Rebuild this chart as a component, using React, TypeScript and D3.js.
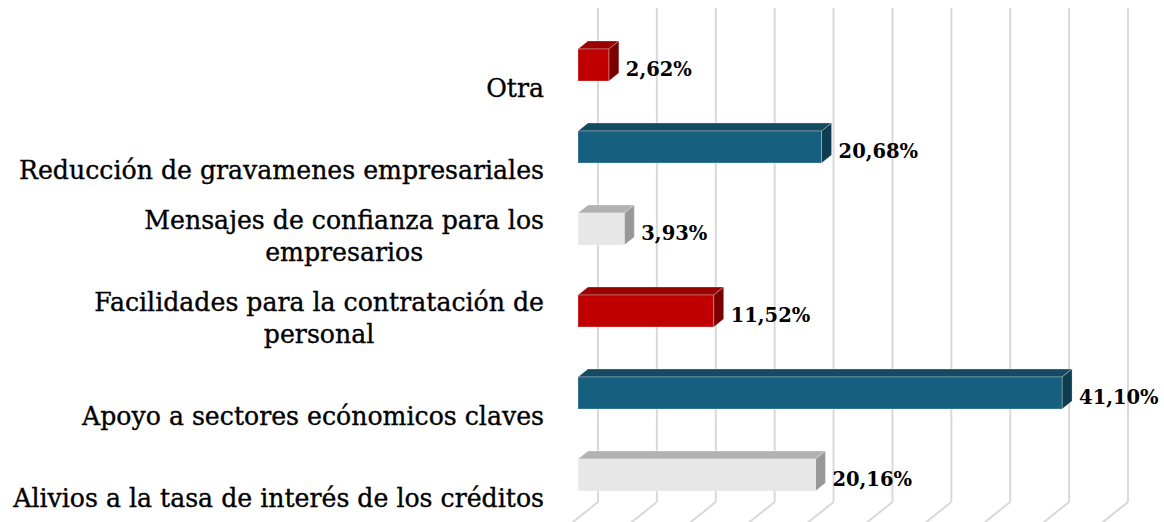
import React from "react";
import * as d3 from "d3";

const categories = [
  "Otra",
  "Reducción de gravamenes empresariales",
  "Mensajes de confianza para los empresarios",
  "Facilidades para la contratación de personal",
  "Apoyo a sectores ecónomicos claves",
  "Alivios a la tasa de interés de los créditos",
];
const categoryLines = [
  ["Otra"],
  ["Reducción de gravamenes empresariales"],
  ["Mensajes de confianza para los", "empresarios"],
  ["Facilidades para la contratación de", "personal"],
  ["Apoyo a sectores ecónomicos claves"],
  ["Alivios a la tasa de interés de los créditos"],
];
const values = [2.62, 20.68, 3.93, 11.52, 41.1, 20.16];
const valueLabels = ["2,62%", "20,68%", "3,93%", "11,52%", "41,10%", "20,16%"];
const colorKeys = ["red", "blue", "gray", "red", "blue", "gray"];
const gridTicks = [0, 5, 10, 15, 20, 25, 30, 35, 40, 45];

const palette: Record<string, { front: string; top: string; side: string }> = {
  red: { front: "#c00000", top: "#990000", side: "#7a0000" },
  blue: { front: "#175f7e", top: "#134b63", side: "#0e3c50" },
  gray: { front: "#e7e7e7", top: "#b2b2b2", side: "#989898" },
};

const W = 1164;
const H = 522;
const FRONT_X0 = 578;
const BACK_X0 = 598;
const DX = 10;
const DY = 8;
const BAR_H = 32;
const WALL_TOP = 8;
const WALL_BOTTOM = 502;
const LABEL_FONT = 25.2;
const LABEL_FAMILY = "'DejaVu Serif', serif";
const LABEL_RIGHT = 544;

let ctx: CanvasRenderingContext2D | null = null;
function measure(s: string): number {
  if (!ctx) {
    const c = document.createElement("canvas");
    ctx = c.getContext("2d");
  }
  if (!ctx) return s.length * LABEL_FONT * 0.56;
  ctx.font = `${LABEL_FONT}px 'DejaVu Serif'`;
  return ctx.measureText(s).width;
}

export default function App() {
  const x = d3.scaleLinear().domain([0, 45]).range([0, 530]);
  const y = d3.scalePoint<string>().domain(categories).range([65, 475]);

  return (
    <svg
      width={W}
      height={H}
      style={{ position: "absolute", left: 0, top: 0, background: "#fff" }}
    >
      <g>
        {gridTicks.map((t) => {
          const xb = BACK_X0 + x(t);
          return (
            <g key={t} stroke="#d9d9d9" strokeWidth={2} fill="none">
              <line x1={xb} y1={WALL_TOP} x2={xb} y2={WALL_BOTTOM} />
              <line x1={xb} y1={WALL_BOTTOM} x2={xb - 30} y2={WALL_BOTTOM + 24} />
            </g>
          );
        })}
      </g>
      <g>
        {categories.map((c, i) => {
          const cy = y(c)!;
          const top = cy - BAR_H / 2;
          const bot = cy + BAR_H / 2;
          const x0 = FRONT_X0;
          const x1 = FRONT_X0 + x(values[i]);
          const p = palette[colorKeys[i]];
          const topPts = `${x0},${top} ${x0 + DX},${top - DY} ${x1 + DX},${top - DY} ${x1},${top}`;
          const sidePts = `${x1},${top} ${x1 + DX},${top - DY} ${x1 + DX},${bot - DY} ${x1},${bot}`;
          return (
            <g key={c}>
              <polygon points={topPts} fill={p.top} stroke="rgba(255,255,255,0.35)" strokeWidth={0.8} />
              <polygon points={sidePts} fill={p.side} stroke="rgba(255,255,255,0.35)" strokeWidth={0.8} />
              <rect
                x={x0}
                y={top}
                width={x1 - x0}
                height={BAR_H}
                fill={p.front}
                stroke="rgba(255,255,255,0.35)"
                strokeWidth={0.8}
              />
              <text
                x={x1 + DX + 7}
                y={cy + 11}
                fontFamily={LABEL_FAMILY}
                fontWeight="bold"
                fontSize={19.5}
                fill="#000"
              >
                {valueLabels[i]}
              </text>
            </g>
          );
        })}
      </g>
      <g>
        {categories.map((c, i) => {
          const cy = y(c)!;
          const lines = categoryLines[i];
          const lastBase = cy + 32;
          const maxW = Math.max(...lines.map(measure));
          const cx = LABEL_RIGHT - maxW / 2;
          return (
            <text
              key={c}
              textAnchor="middle"
              fontFamily={LABEL_FAMILY}
              fontSize={LABEL_FONT}
              fill="#000"
              stroke="#000"
              strokeWidth={0.35}
            >
              {lines.map((ln, j) => (
                <tspan key={j} x={cx} y={lastBase - (lines.length - 1 - j) * 32}>
                  {ln}
                </tspan>
              ))}
            </text>
          );
        })}
      </g>
    </svg>
  );
}
